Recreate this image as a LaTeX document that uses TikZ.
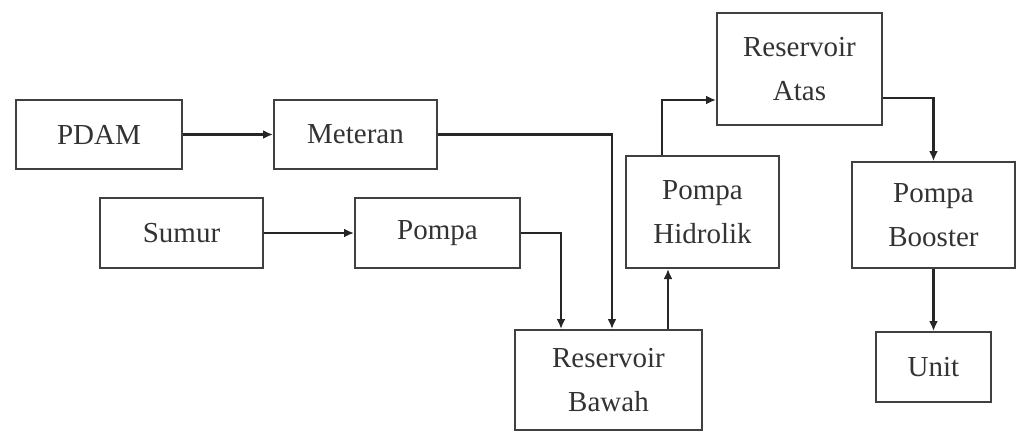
\documentclass[tikz,border=0pt]{standalone}
\usepackage{fontspec}
\setmainfont{Liberation Serif}
\usetikzlibrary{arrows.meta,positioning}

\begin{document}
\begin{tikzpicture}[x=0.5pt,y=-0.5pt,>={Latex[length=5pt,width=4.5pt]},
    unit box/.style={draw=black!75,line width=1pt,align=center,inner sep=0pt,
      text=black!80,font=\rmfamily\fontsize{14.5}{22}\selectfont},
    flow/.style={->,draw=black!85,line width=1.2pt}]
  \useasboundingbox (0,0) rectangle (1017,435);

  % sources
  \node[unit box,minimum width=83pt,minimum height=34.5pt] (pdam) at (99,134.5) {PDAM};
  \node[unit box,minimum width=81.5pt,minimum height=34.5pt] (meteran) [right=45pt of pdam] {Meteran};
  \node[unit box,minimum width=81.5pt,minimum height=35pt] (sumur) at (181.5,233) {Sumur};
  \node[unit box,minimum width=82.5pt,minimum height=35pt] (pompa) [right=45pt of sumur] {Pompa};

  % storage and pumps
  \node[unit box,minimum width=93.5pt,minimum height=50pt] (bawah) at (608.5,380) {Reservoir\\Bawah};
  \node[unit box,minimum width=76.5pt,minimum height=56pt] (hidrolik) at (702.5,212) {Pompa\\Hidrolik};
  \node[unit box,minimum width=82.5pt,minimum height=56pt] (atas) at (799.5,69) {Reservoir\\Atas};
  \node[unit box,minimum width=81.5pt,minimum height=53pt] (booster) at (933.5,215) {Pompa\\Booster};
  \node[unit box,minimum width=57.5pt,minimum height=35pt] (unit) [below=31pt of booster] {Unit};

  \draw[flow] (pdam) -- (meteran);
  \draw[flow] (sumur) -- (pompa);
  \draw[flow] (meteran.east) -| ([xshift=1.75pt]bawah.north);
  \draw[flow] (pompa.east) -| ([xshift=-23.75pt]bawah.north);
  \draw[flow] ([xshift=29.75pt]bawah.north) -- ([xshift=29.75pt]bawah.north |- hidrolik.south);
  \draw[flow] ([xshift=-20.25pt]hidrolik.north) |- ([yshift=-15.5pt]atas.west);
  \draw[flow] ([yshift=-14.5pt]atas.east) -| (booster.north);
  \draw[flow] (booster) -- (unit);
\end{tikzpicture}
\end{document}
